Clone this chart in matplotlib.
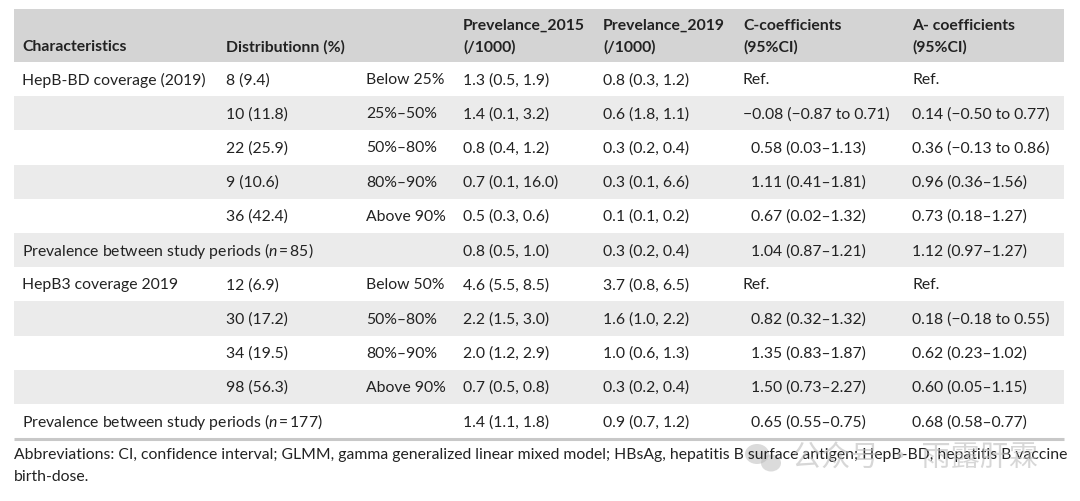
import matplotlib.pyplot as plt
from matplotlib.patches import Rectangle, Ellipse

plt.rcParams['font.family'] = ['Lato', 'DejaVu Sans']
plt.rcParams['mathtext.fontset'] = 'custom'
plt.rcParams['mathtext.it'] = 'Lato:italic'
plt.rcParams['mathtext.rm'] = 'Lato'

# table content
header_top = ['', '', '', 'Prevelance_2015', 'Prevelance_2019', 'C-coefficients', 'A- coefficients']
header_bot = ['Characteristics', 'Distributionn (%)', '', '(/1000)', '(/1000)', '(95%CI)', '(95%CI)']

characteristics = ['HepB-BD coverage (2019)', '', '', '', '',
                   'Prevalence between study periods ($n$\u2009=\u200985)',
                   'HepB3 coverage 2019', '', '', '',
                   'Prevalence between study periods ($n$\u2009=\u2009177)']
distribution = ['8 (9.4)', '10 (11.8)', '22 (25.9)', '9 (10.6)', '36 (42.4)', '',
                '12 (6.9)', '30 (17.2)', '34 (19.5)', '98 (56.3)', '']
coverage = ['Below 25%', '25%–50%', '50%–80%', '80%–90%', 'Above 90%', '',
            'Below 50%', '50%–80%', '80%–90%', 'Above 90%', '']
prev_2015 = ['1.3 (0.5, 1.9)', '1.4 (0.1, 3.2)', '0.8 (0.4, 1.2)', '0.7 (0.1, 16.0)', '0.5 (0.3, 0.6)',
             '0.8 (0.5, 1.0)', '4.6 (5.5, 8.5)', '2.2 (1.5, 3.0)', '2.0 (1.2, 2.9)', '0.7 (0.5, 0.8)',
             '1.4 (1.1, 1.8)']
prev_2019 = ['0.8 (0.3, 1.2)', '0.6 (1.8, 1.1)', '0.3 (0.2, 0.4)', '0.3 (0.1, 6.6)', '0.1 (0.1, 0.2)',
             '0.3 (0.2, 0.4)', '3.7 (0.8, 6.5)', '1.6 (1.0, 2.2)', '1.0 (0.6, 1.3)', '0.3 (0.2, 0.4)',
             '0.9 (0.7, 1.2)']
c_coef = ['Ref.', '\u22120.08 (\u22120.87 to 0.71)', '0.58 (0.03–1.13)', '1.11 (0.41–1.81)', '0.67 (0.02–1.32)',
          '1.04 (0.87–1.21)', 'Ref.', '0.82 (0.32–1.32)', '1.35 (0.83–1.87)', '1.50 (0.73–2.27)',
          '0.65 (0.55–0.75)']
a_coef = ['Ref.', '0.14 (\u22120.50 to 0.77)', '0.36 (\u22120.13 to 0.86)', '0.96 (0.36–1.56)', '0.73 (0.18–1.27)',
          '1.12 (0.97–1.27)', 'Ref.', '0.18 (\u22120.18 to 0.55)', '0.62 (0.23–1.02)', '0.60 (0.05–1.15)',
          '0.68 (0.58–0.77)']
footnote = ['Abbreviations: CI, confidence interval; GLMM, gamma generalized linear mixed model; HBsAg, '
            'hepatitis B surface antigen; HepB-BD, hepatitis B vaccine',
            'birth-dose.']

columns = [characteristics, distribution, coverage, prev_2015, prev_2019, c_coef, a_coef]
col_x = [22, 226, 366, 463, 603, 743, 912]

fig = plt.figure(figsize=(10.8, 5.02), dpi=100)
ax = fig.add_axes([0, 0, 1, 1])
ax.set_xlim(0, 1080)
ax.set_ylim(502, 0)
ax.axis('off')

left, right = 14, 1064
row_h = 34.2
top = 63
txt = '#222222'
fs = 11.3

# header band
ax.add_patch(Rectangle((left, 10), right - left, top - 10, color='#d4d4d4', lw=0))
for x, t1, t2 in zip(col_x, header_top, header_bot):
    ax.text(x, 26, t1, fontsize=fs, fontweight='bold', color=txt, va='center')
    ax.text(x, 47, t2, fontsize=fs, fontweight='bold', color=txt, va='center')

# body rows
for i in range(len(characteristics)):
    y0 = top + i * row_h
    if i % 2 == 1:
        ax.add_patch(Rectangle((left, y0), right - left, row_h, color='#ebebeb', lw=0))
    yc = y0 + row_h / 2
    for j, (x, col) in enumerate(zip(col_x, columns)):
        s = col[i]
        if j == 5 and s[:1].isdigit():
            x += 8  # aligned as if a minus sign were present
        ax.text(x, yc, s, fontsize=fs, color=txt, va='center')

bottom = top + len(characteristics) * row_h
ax.plot([left, right], [bottom + 1, bottom + 1], color='#c8c8c8', lw=2.2, solid_capstyle='butt')

ax.text(left, 455, footnote[0], fontsize=fs, color=txt, va='center')
ax.text(left, 477, footnote[1], fontsize=fs, color=txt, va='center')

# watermark
ax.add_patch(Ellipse((757, 455), 24, 20, color='#b8b8b8', alpha=0.5, lw=0))
ax.add_patch(Ellipse((771, 464), 20, 17, color='#b8b8b8', alpha=0.5, lw=0))
ax.text(792, 459, '公众号 · 雨露肝霖', fontsize=21, color='#bdbdbd', alpha=0.6, va='center',
        family=['Noto Sans CJK SC', 'DejaVu Sans'])

fig.savefig('out.png', dpi=100)
